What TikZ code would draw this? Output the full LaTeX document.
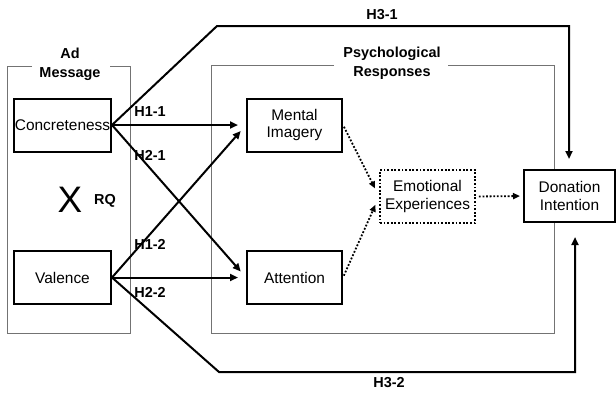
\documentclass[tikz,border=0pt]{standalone}
\usepackage{fontspec}
\setmainfont{Liberation Sans}
\usetikzlibrary{arrows.meta}
\begin{document}
\begin{tikzpicture}[x=1bp,y=-1bp,
  box/.style={draw,line width=2bp,fill=white,minimum width=95bp,minimum height=53bp,inner sep=0pt,align=center,font=\fontsize{15.5}{18}\selectfont},
  dotbox/.style={box,line width=1.8bp,dash pattern={on 1.8bp off 1.8bp}},
  grp/.style={draw=black!55,line width=1bp},
  lbl/.style={font=\bfseries\fontsize{14.5}{19}\selectfont,align=center,inner sep=0pt},
  arr/.style={line width=2bp,-{Triangle[length=8bp,width=7bp]}},
  darr/.style={line width=1.8bp,dash pattern={on 1.8bp off 1.8bp},-{Triangle[length=7bp,width=6bp]}}
]
\useasboundingbox (0,0) rectangle (616,394);

% group frames
\draw[grp] (32,66) -- (7,66) -- (7,333) -- (130,333) -- (130,66) -- (110,66);
\node[lbl] (adtitle) at (70,64) {Ad\\Message};
\draw[grp] (334,65) -- (211,65) -- (211,333) -- (554,333) -- (554,65) -- (448,65);
\node[lbl] (pstitle) at (392,63) {Psychological\\Responses};

% nodes
\node[box,minimum width=97bp] (conc) at (62.5,125) {Concreteness};
\node[box,minimum width=97bp] (val) at (62.5,277.5) {Valence};
\node[box] (ment) at (294.5,125) {Mental\\Imagery};
\node[box] (att) at (294.5,277.5) {Attention};
\node[dotbox] (emo) at (427.5,196.5) {Emotional\\Experiences};
\node[box,minimum width=91bp,minimum height=52bp] (don) at (569.5,196) {Donation\\Intention};

\node[font=\fontsize{37}{37}\selectfont,inner sep=0pt] (x) at (70,200) {X};
\node[lbl] (rq) at (105,201) {RQ};

% hypotheses arrows
\draw[arr,shorten >=8bp] (conc.east) -- (ment.west);
\draw[arr,shorten >=8bp] (conc.east) -- (att.west);
\draw[arr,shorten >=8bp] (val.east) -- (ment.west);
\draw[arr,shorten >=8bp] (val.east) -- (att.west);

\node[lbl] (h11) at (150,112) {H1-1};
\node[lbl] (h21) at (150,155) {H2-1};
\node[lbl] (h12) at (150,244) {H1-2};
\node[lbl] (h22) at (150,292) {H2-2};

% dotted arrows
\draw[darr,shorten <=2bp,shorten >=9bp] (ment.east) -- (emo.west);
\draw[darr,shorten <=2bp,shorten >=9bp] (att.east) -- (emo.west);
\draw[darr,shorten <=3bp,shorten >=3bp] (emo.east) -- (don.west);

% H3 paths
\coordinate (a1) at (217,26);
\coordinate (a2) at (569,26);
\coordinate (a3) at (569,159);
\coordinate (b1) at (219,372);
\coordinate (b2) at (575,372);
\coordinate (b3) at (575,237);
\draw[arr] (conc.east) -- (a1) -- (a2) -- (a3);
\draw[arr] (val.east) -- (b1) -- (b2) -- (b3);
\node[lbl] (h31) at (382,15) {H3-1};
\node[lbl] (h32) at (389,383) {H3-2};
\end{tikzpicture}
\end{document}
